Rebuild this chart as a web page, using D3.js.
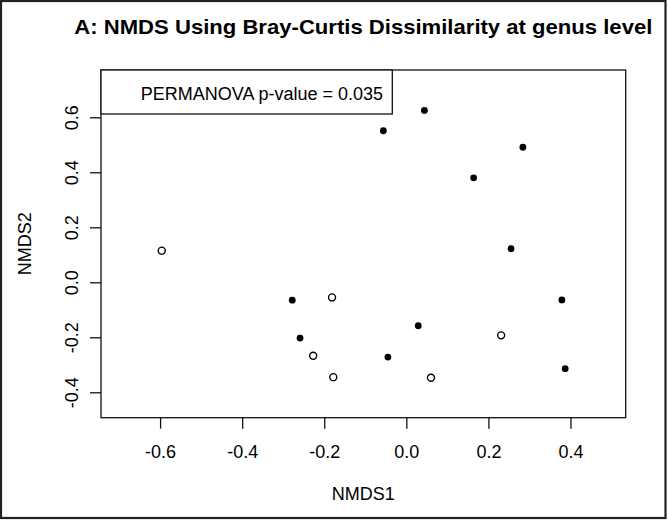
<!DOCTYPE html>
<html>
<head>
<meta charset="utf-8">
<script src="https://cdn.jsdelivr.net/npm/d3@7"></script>
<style>
  body { margin: 0; background: #fff; }
  svg { display: block; font-family: "Liberation Sans", Arial, Helvetica, sans-serif; }
</style>
</head>
<body>
<svg id="chart" width="668" height="520"></svg>
<script>
// group 1 (filled dots)
const filledX = [-0.278, -0.259, 0.164, 0.255, 0.379, 0.029, -0.045, 0.387, 0.044, 0.284, -0.056];
const filledY = [-0.065, -0.203, 0.380, 0.122, -0.064, -0.158, -0.272, -0.314, 0.625, 0.491, 0.551];
// group 2 (open circles)
const openX = [-0.596, -0.181, -0.227, -0.178, 0.231, 0.060];
const openY = [0.115, -0.055, -0.267, -0.345, -0.193, -0.347];

const xTicks = [-0.6, -0.4, -0.2, 0.0, 0.2, 0.4];
const yTicks = [-0.4, -0.2, 0.0, 0.2, 0.4, 0.6];
const xDomain = [-0.744, 0.5345];
const yDomain = [-0.4924, 0.772];

const titleText = "A: NMDS Using Bray-Curtis Dissimilarity at genus level";
const legendText = "PERMANOVA p-value = 0.035";

const W = 668, H = 520;
const plot = { left: 101, right: 625.7, top: 70, bottom: 417.7 };

const svg = d3.select('#chart');

// outer frame of the figure
svg.append('rect')
  .attr('x', 1).attr('y', 1).attr('width', W - 3.5).attr('height', H - 3)
  .attr('fill', 'none').attr('stroke', '#222').attr('stroke-width', 2.2);

const x = d3.scaleLinear().domain(xDomain).range([plot.left, plot.right]);
const y = d3.scaleLinear().domain(yDomain).range([plot.bottom, plot.top]);

const fmt = d => d.toFixed(1);

// x axis
const xAxis = svg.append('g')
  .attr('transform', `translate(0, ${plot.bottom})`)
  .call(d3.axisBottom(x).tickValues(xTicks).tickFormat(fmt).tickSize(11).tickSizeOuter(0));
xAxis.select('.domain').remove();
xAxis.selectAll('line').attr('stroke', '#111').attr('stroke-width', 1.3);
xAxis.selectAll('text')
  .attr('y', 40).attr('dy', null)
  .attr('font-size', 18).attr('font-family', null).attr('fill', '#000');

// y axis, labels parallel to the axis like base R
const yAxis = svg.append('g')
  .attr('transform', `translate(${plot.left}, 0)`)
  .call(d3.axisLeft(y).tickValues(yTicks).tickFormat(fmt).tickSize(11).tickSizeOuter(0));
yAxis.select('.domain').remove();
yAxis.selectAll('line').attr('stroke', '#111').attr('stroke-width', 1.3);
yAxis.selectAll('text')
  .attr('x', null).attr('dy', null)
  .attr('transform', 'translate(-23, 0) rotate(-90)')
  .attr('text-anchor', 'middle')
  .attr('font-size', 18).attr('font-family', null).attr('fill', '#000');

// plot box
svg.append('rect')
  .attr('x', plot.left).attr('y', plot.top)
  .attr('width', plot.right - plot.left).attr('height', plot.bottom - plot.top)
  .attr('fill', 'none').attr('stroke', '#111').attr('stroke-width', 1.3);

// legend box with the p-value
const legend = svg.append('g');
legend.append('rect')
  .attr('x', plot.left).attr('y', plot.top)
  .attr('width', 392.3 - plot.left).attr('height', 114 - plot.top)
  .attr('fill', '#fff').attr('stroke', '#111').attr('stroke-width', 1.3);
legend.append('text')
  .attr('x', 383).attr('y', 99.5)
  .attr('text-anchor', 'end').attr('font-size', 18)
  .text(legendText);

// points
svg.append('g').selectAll('circle')
  .data(d3.zip(filledX, filledY))
  .join('circle')
  .attr('cx', d => x(d[0])).attr('cy', d => y(d[1]))
  .attr('r', 3.4).attr('fill', '#000');

svg.append('g').selectAll('circle')
  .data(d3.zip(openX, openY))
  .join('circle')
  .attr('cx', d => x(d[0])).attr('cy', d => y(d[1]))
  .attr('r', 3.5).attr('fill', 'none').attr('stroke', '#000').attr('stroke-width', 1.4);

// title and axis labels
svg.append('text')
  .attr('x', (plot.left + plot.right) / 2).attr('y', 34)
  .attr('text-anchor', 'middle').attr('font-size', 21).attr('font-weight', 'bold')
  .attr('textLength', 578).attr('lengthAdjust', 'spacingAndGlyphs')
  .text(titleText);

svg.append('text')
  .attr('x', (plot.left + plot.right) / 2).attr('y', 500)
  .attr('text-anchor', 'middle').attr('font-size', 18)
  .text('NMDS1');

svg.append('text')
  .attr('transform', `translate(31, ${(plot.top + plot.bottom) / 2}) rotate(-90)`)
  .attr('text-anchor', 'middle').attr('font-size', 18)
  .text('NMDS2');
</script>
</body>
</html>
